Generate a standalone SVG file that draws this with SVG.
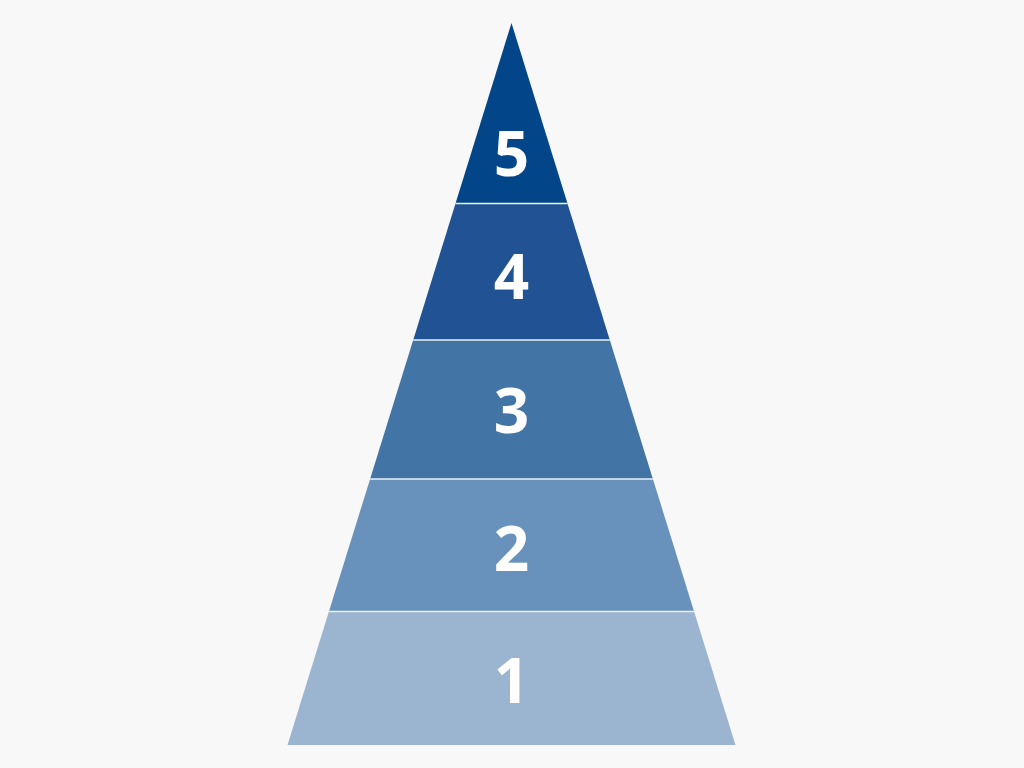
<svg xmlns="http://www.w3.org/2000/svg" width="1024" height="768" viewBox="0 0 1024 768">
<style>
.lbl{font-family:"Open Sans","Noto Sans","DejaVu Sans",sans-serif;font-weight:700;font-size:62px;fill:#ffffff;text-anchor:middle}
.sep{stroke:#eaf0f7;stroke-width:1.5}
</style>
<rect width="1024" height="768" fill="#f9f8f9"/>
<g id="level5"><polygon points="511.5,23 567.5,203.5 455.5,203.5" fill="#024588"/><text class="lbl" x="511.5" y="175.5">5</text></g>
<g id="level4"><polygon points="455.5,203.5 567.5,203.5 609.8,340 413.2,340" fill="#215394"/><text class="lbl" x="511.5" y="298.5">4</text></g>
<g id="level3"><polygon points="413.2,340 609.8,340 652.9,479 370.1,479" fill="#4374a6"/><text class="lbl" x="511.5" y="433">3</text></g>
<g id="level2"><polygon points="370.1,479 652.9,479 694.1,611.5 328.9,611.5" fill="#6892bb"/><text class="lbl" x="511.5" y="571">2</text></g>
<g id="level1"><polygon points="328.9,611.5 694.1,611.5 735.5,745 287.5,745" fill="#9bb5d0"/><text class="lbl" x="511.5" y="703">1</text></g>
<g id="separators">
<line class="sep" x1="455.5" y1="203.5" x2="567.5" y2="203.5"/>
<line class="sep" x1="413.2" y1="340" x2="609.8" y2="340"/>
<line class="sep" x1="370.1" y1="479" x2="652.9" y2="479"/>
<line class="sep" x1="328.9" y1="611.5" x2="694.1" y2="611.5"/>
</g>
</svg>
